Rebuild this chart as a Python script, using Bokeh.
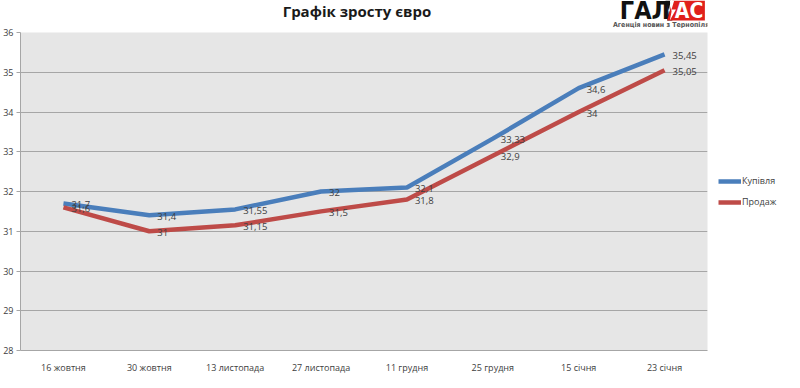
from bokeh.plotting import figure
from bokeh.layouts import column
from bokeh.models import Legend, LegendItem, FixedTicker, ColumnDataSource, Range1d
from bokeh.core.properties import value
from bokeh.embed import file_html
from bokeh.resources import INLINE

dates = ["16 жовтня", "30 жовтня", "13 листопада", "27 листопада",
         "11 грудня", "25 грудня", "15 січня", "23 січня"]
buy = [31.7, 31.4, 31.55, 32.0, 32.1, 33.33, 34.6, 35.45]
sell = [31.6, 31.0, 31.15, 31.5, 31.8, 32.9, 34.0, 35.05]
buy_labels = ["31,7", "31,4", "31,55", "32", "32,1", "33,33", "34,6", "35,45"]
sell_labels = ["31,6", "31", "31,15", "31,5", "31,8", "32,9", "34", "35,05"]
y_ticks = [28, 29, 30, 31, 32, 33, 34, 35, 36]
title_text = "Графік зросту євро"
logo_left = "ГАЛ"
logo_right = "АС"
logo_sub = "Агенція новин з Тернопіля"

FONT = "Open Sans"
BLUE = "#4a7ebb"
RED = "#be4b48"

W = 784
# ---------- header (title + logo) ----------
HH = 28
h = figure(height=HH, sizing_mode="stretch_width", x_range=Range1d(0, W),
           y_range=Range1d(HH, 0), output_backend="svg", toolbar_location=None,
           x_axis_location=None, y_axis_location=None,
           min_border=0, outline_line_color=None)
h.grid.visible = False
h.background_fill_color = "white"
h.border_fill_color = "white"

h.text(x=[384], y=[10], text=[title_text], text_font=value(FONT),
       text_font_style="bold", text_font_size="15px", text_align="center",
       text_baseline="middle", text_color="#1a1a1a")

# logo: black "ГАЛ", slash, red box with white "АС"
h.text(x=[684], y=[10], text=[logo_left], text_font=value("DejaVu Sans Condensed"),
       text_font_style="bold", text_font_size="25px", text_align="left",
       text_baseline="middle", text_color="#111111")
h.patch(x=[736, 742, 738, 744], y=[0, 0, 20, 20], fill_color="#111111", line_color=None)
h.patch(x=[744, 781, 781, 738], y=[0, 0, 20, 20], fill_color="#e0201b", line_color=None)
h.patch(x=[741, 746, 743, 748, 741, 743], y=[0, 0, 9, 9, 20, 11],
        fill_color="white", line_color=None)
h.text(x=[763], y=[10], text=[logo_right], text_font=value("DejaVu Sans Condensed"),
       text_font_style="bold", text_font_size="21px", text_align="center",
       text_baseline="middle", text_color="white")
h.text(x=[731], y=[24.5], text=[logo_sub], text_font=value("DejaVu Sans Condensed"),
       text_font_style="bold", text_font_size="7px", text_align="center",
       text_baseline="middle", text_color="#555555")

# ---------- main chart ----------
p = figure(x_range=dates, y_range=(28, 36),
           frame_width=687, frame_height=318,
           output_backend="svg", toolbar_location=None,
           min_border_left=16, min_border_right=10, min_border_top=4,
           min_border_bottom=0)
p.background_fill_color = "#e6e6e6"
p.border_fill_color = "white"
p.outline_line_color = None

p.xgrid.grid_line_color = None
p.ygrid.grid_line_color = "#a6a6a6"
p.ygrid.grid_line_width = 1
p.yaxis.ticker = FixedTicker(ticks=y_ticks)

p.yaxis.axis_line_color = "#a6a6a6"
p.yaxis.major_tick_line_color = "#a6a6a6"
p.yaxis.major_tick_out = 4
p.yaxis.major_tick_in = 0
p.yaxis.minor_tick_line_color = None
p.yaxis.major_label_standoff = 3
p.yaxis.major_label_text_font = FONT
p.yaxis.major_label_text_font_size = "9px"
p.yaxis.major_label_text_color = "#404040"

p.xaxis.axis_line_color = "#a6a6a6"
p.xaxis.major_tick_line_color = None
p.xaxis.minor_tick_line_color = None
p.xaxis.major_label_standoff = 4
p.xaxis.major_label_text_font = FONT
p.xaxis.major_label_text_font_size = "9px"
p.xaxis.major_label_text_color = "#404040"

src = ColumnDataSource(dict(x=dates, buy=buy, sell=sell,
                            bl=buy_labels, sl=sell_labels))

r_buy = p.line("x", "buy", source=src, line_color=BLUE, line_width=4.5)
r_sell = p.line("x", "sell", source=src, line_color=RED, line_width=4.5)

for col, lab in (("buy", "bl"), ("sell", "sl")):
    p.text("x", col, text=lab, source=src, x_offset=8, y_offset=1,
           text_baseline="middle", text_align="left",
           text_font=value(FONT), text_font_size="9.5px", text_color="#404040")

legend = Legend(items=[LegendItem(label="Купівля", renderers=[r_buy]),
                       LegendItem(label="Продаж", renderers=[r_sell])],
                location="center_left", border_line_color=None,
                background_fill_alpha=0, glyph_width=23, glyph_height=10,
                label_standoff=1, spacing=8, padding=0, margin=11,
                label_text_font=FONT, label_text_font_size="9px",
                label_text_color="#404040")
p.add_layout(legend, "right")

layout = column(h, p, spacing=0)
open("out.html", "w").write(file_html(layout, INLINE))
